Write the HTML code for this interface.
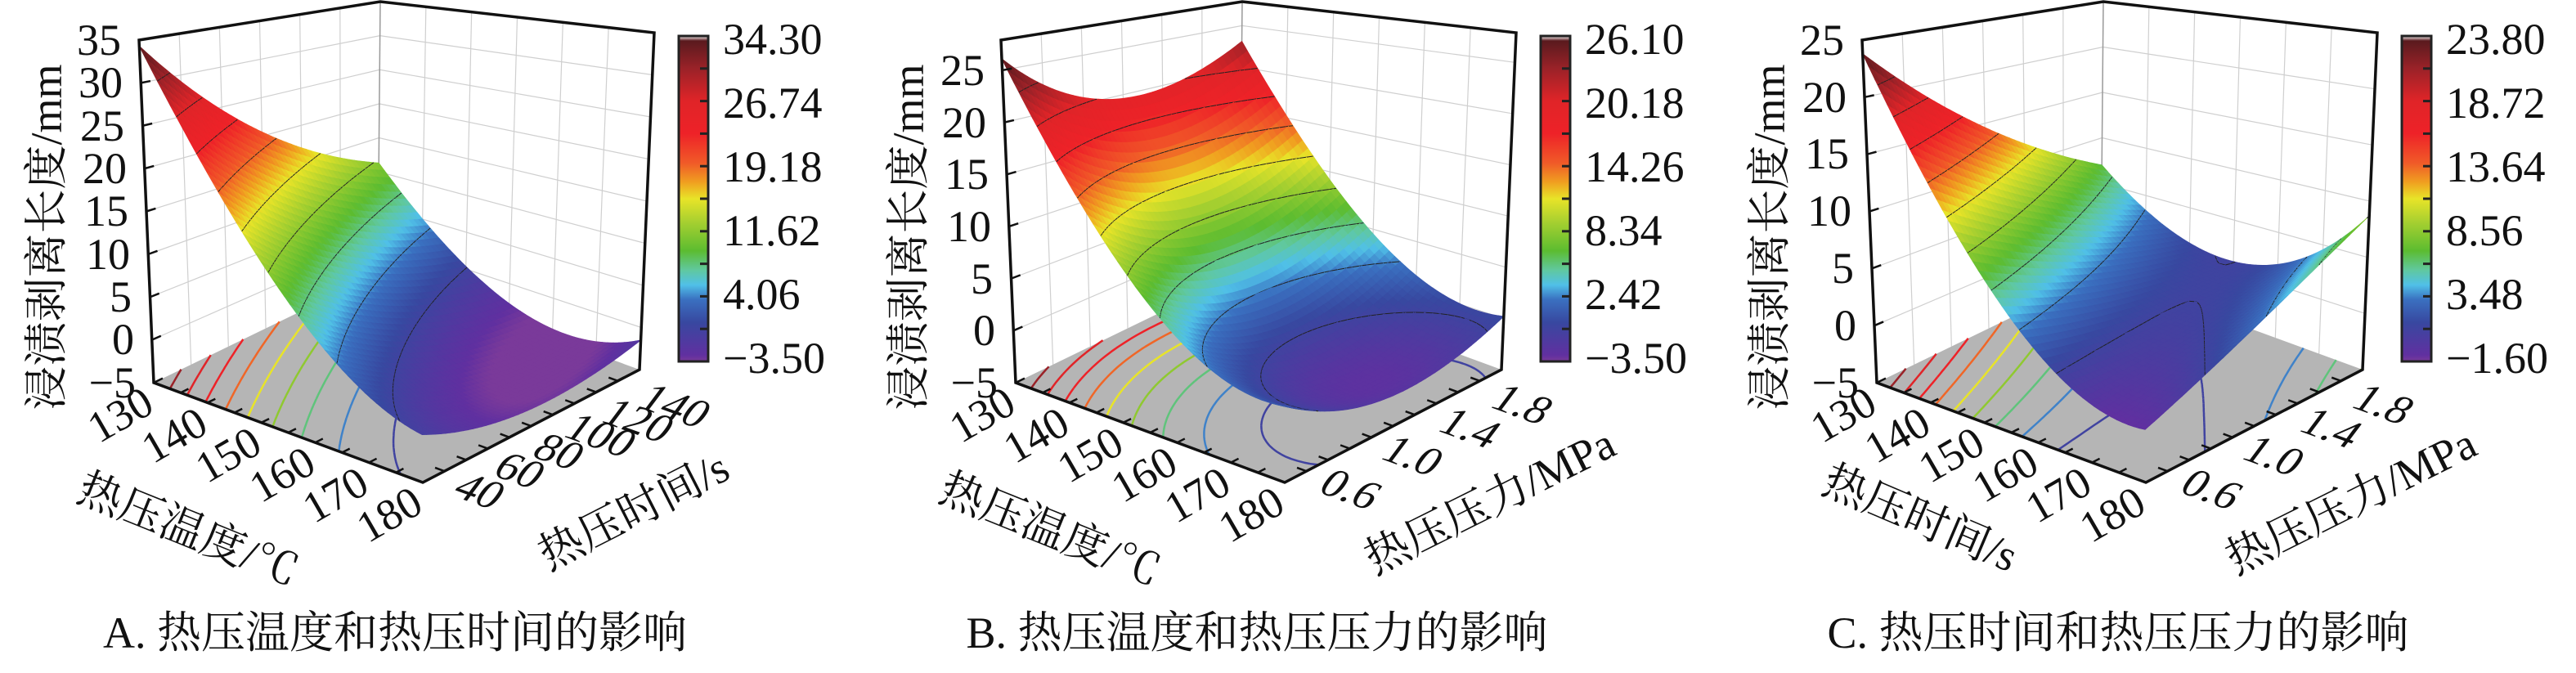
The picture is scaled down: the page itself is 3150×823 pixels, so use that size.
<!DOCTYPE html>
<html><head><meta charset="utf-8">
<style>
html,body{margin:0;padding:0;background:#fff;}
svg{display:block;}
.n{font-family:"Liberation Serif","Noto Serif CJK SC",serif;font-size:54px;fill:#111;}
.c{font-family:"Liberation Serif","Noto Serif CJK SC",serif;font-size:54px;fill:#111;}
</style></head>
<body>
<svg id="root" xmlns="http://www.w3.org/2000/svg" width="3150" height="823" viewBox="0 0 3150 823">
<defs>
<linearGradient id="cm" x1="0" y1="1" x2="0" y2="0">
<stop offset="0" stop-color="#7a3a9a"/><stop offset="0.02" stop-color="#6030a0"/><stop offset="0.12" stop-color="#3848a0"/>
<stop offset="0.19" stop-color="#3a70c0"/><stop offset="0.235" stop-color="#50c0e8"/><stop offset="0.28" stop-color="#60c8a0"/>
<stop offset="0.34" stop-color="#5cbc30"/><stop offset="0.43" stop-color="#a8d030"/><stop offset="0.5" stop-color="#e8e428"/>
<stop offset="0.55" stop-color="#f0a020"/><stop offset="0.61" stop-color="#f05a28"/><stop offset="0.7" stop-color="#ee2228"/>
<stop offset="0.8" stop-color="#e02428"/><stop offset="0.9" stop-color="#9a2228"/><stop offset="0.985" stop-color="#5a1a1e"/><stop offset="1" stop-color="#ffffff"/>
</linearGradient>
</defs>

<!-- Panel A -->
<g transform="translate(0,0)">
<g id="gA"></g>
<rect x="830" y="44" width="36" height="398" fill="url(#cm)" stroke="#222" stroke-width="3"/>
<g stroke="#222" stroke-width="3"><line x1="856" y1="83.8" x2="866" y2="83.8"/><line x1="856" y1="123.6" x2="866" y2="123.6"/><line x1="856" y1="163.4" x2="866" y2="163.4"/><line x1="856" y1="203.2" x2="866" y2="203.2"/><line x1="856" y1="243" x2="866" y2="243"/><line x1="856" y1="282.8" x2="866" y2="282.8"/><line x1="856" y1="322.6" x2="866" y2="322.6"/><line x1="856" y1="362.4" x2="866" y2="362.4"/><line x1="856" y1="402.2" x2="866" y2="402.2"/></g>
<g class="n"><text x="884" y="66">34.30</text><text x="884" y="144">26.74</text><text x="884" y="222">19.18</text><text x="884" y="300">11.62</text><text x="884" y="378">4.06</text><text x="884" y="456">−3.50</text></g>
<g class="n" text-anchor="end"><text x="148" y="67">35</text><text x="150" y="119">30</text><text x="152" y="172">25</text><text x="155" y="224">20</text><text x="157" y="276">15</text><text x="159" y="329">10</text><text x="161" y="381">5</text><text x="164" y="433">0</text><text x="166" y="486">−5</text></g>
<g class="n" text-anchor="middle" dominant-baseline="central">
<text transform="translate(147,507) rotate(-30)">130</text><text transform="translate(213,532) rotate(-30)">140</text><text transform="translate(279,556) rotate(-30)">150</text><text transform="translate(345,580) rotate(-30)">160</text><text transform="translate(410,605) rotate(-30)">170</text><text transform="translate(476,629) rotate(-30)">180</text>
<text transform="matrix(0.94,0.34,-0.6,0.8,587,600)">40</text><text transform="matrix(0.94,0.34,-0.6,0.8,636,575)">60</text><text transform="matrix(0.94,0.34,-0.6,0.8,684,552)">80</text><text transform="matrix(0.94,0.34,-0.6,0.8,735,532)">100</text><text transform="matrix(0.94,0.34,-0.6,0.8,781,514)">120</text><text transform="matrix(0.94,0.34,-0.6,0.8,826,496)">140</text>
</g>
<g class="c" text-anchor="middle" dominant-baseline="central">
<text transform="translate(57,290) rotate(-90)">浸渍剥离长度/mm</text>
<text transform="translate(230,648) rotate(22)">热压温度/℃</text>
<text transform="translate(775,625) rotate(-27)">热压时间/s</text>
</g>
<text class="c" x="483" y="792" text-anchor="middle">A. 热压温度和热压时间的影响</text>
</g>

<!-- Panel B -->
<g transform="translate(1054,0)">
<g id="gB"></g>
<rect x="830" y="44" width="36" height="398" fill="url(#cm)" stroke="#222" stroke-width="3"/>
<g stroke="#222" stroke-width="3"><line x1="856" y1="83.8" x2="866" y2="83.8"/><line x1="856" y1="123.6" x2="866" y2="123.6"/><line x1="856" y1="163.4" x2="866" y2="163.4"/><line x1="856" y1="203.2" x2="866" y2="203.2"/><line x1="856" y1="243" x2="866" y2="243"/><line x1="856" y1="282.8" x2="866" y2="282.8"/><line x1="856" y1="322.6" x2="866" y2="322.6"/><line x1="856" y1="362.4" x2="866" y2="362.4"/><line x1="856" y1="402.2" x2="866" y2="402.2"/></g>
<g class="n"><text x="884" y="66">26.10</text><text x="884" y="144">20.18</text><text x="884" y="222">14.26</text><text x="884" y="300">8.34</text><text x="884" y="378">2.42</text><text x="884" y="456">−3.50</text></g>
<g class="n" text-anchor="end"><text x="150" y="104">25</text><text x="152" y="168">20</text><text x="155" y="231">15</text><text x="158" y="295">10</text><text x="160" y="359">5</text><text x="163" y="422">0</text><text x="166" y="486">−5</text></g>
<g class="n" text-anchor="middle" dominant-baseline="central">
<text transform="translate(147,507) rotate(-30)">130</text><text transform="translate(213,532) rotate(-30)">140</text><text transform="translate(279,556) rotate(-30)">150</text><text transform="translate(345,580) rotate(-30)">160</text><text transform="translate(410,605) rotate(-30)">170</text><text transform="translate(476,629) rotate(-30)">180</text>
<text transform="matrix(0.94,0.34,-0.6,0.8,598,598)">0.6</text><text transform="matrix(0.94,0.34,-0.6,0.8,674,557)">1.0</text><text transform="matrix(0.94,0.34,-0.6,0.8,744,523)">1.4</text><text transform="matrix(0.94,0.34,-0.6,0.8,808,494)">1.8</text>
</g>
<g class="c" text-anchor="middle" dominant-baseline="central">
<text transform="translate(57,290) rotate(-90)">浸渍剥离长度/mm</text>
<text transform="translate(230,648) rotate(22)">热压温度/℃</text>
<text transform="translate(768,613) rotate(-26.5)">热压压力/MPa</text>
</g>
<text class="c" x="483" y="792" text-anchor="middle">B. 热压温度和热压压力的影响</text>
</g>

<!-- Panel C -->
<g transform="translate(2107,0)">
<g id="gC"></g>
<rect x="830" y="44" width="36" height="398" fill="url(#cm)" stroke="#222" stroke-width="3"/>
<g stroke="#222" stroke-width="3"><line x1="856" y1="83.8" x2="866" y2="83.8"/><line x1="856" y1="123.6" x2="866" y2="123.6"/><line x1="856" y1="163.4" x2="866" y2="163.4"/><line x1="856" y1="203.2" x2="866" y2="203.2"/><line x1="856" y1="243" x2="866" y2="243"/><line x1="856" y1="282.8" x2="866" y2="282.8"/><line x1="856" y1="322.6" x2="866" y2="322.6"/><line x1="856" y1="362.4" x2="866" y2="362.4"/><line x1="856" y1="402.2" x2="866" y2="402.2"/></g>
<g class="n"><text x="884" y="66">23.80</text><text x="884" y="144">18.72</text><text x="884" y="222">13.64</text><text x="884" y="300">8.56</text><text x="884" y="378">3.48</text><text x="884" y="456">−1.60</text></g>
<g class="n" text-anchor="end"><text x="148" y="67">25</text><text x="151" y="137">20</text><text x="154" y="206">15</text><text x="157" y="276">10</text><text x="160" y="346">5</text><text x="163" y="416">0</text><text x="166" y="486">−5</text></g>
<g class="n" text-anchor="middle" dominant-baseline="central">
<text transform="translate(147,507) rotate(-30)">130</text><text transform="translate(213,532) rotate(-30)">140</text><text transform="translate(279,556) rotate(-30)">150</text><text transform="translate(345,580) rotate(-30)">160</text><text transform="translate(410,605) rotate(-30)">170</text><text transform="translate(476,629) rotate(-30)">180</text>
<text transform="matrix(0.94,0.34,-0.6,0.8,598,598)">0.6</text><text transform="matrix(0.94,0.34,-0.6,0.8,674,557)">1.0</text><text transform="matrix(0.94,0.34,-0.6,0.8,744,523)">1.4</text><text transform="matrix(0.94,0.34,-0.6,0.8,808,494)">1.8</text>
</g>
<g class="c" text-anchor="middle" dominant-baseline="central">
<text transform="translate(57,290) rotate(-90)">浸渍剥离长度/mm</text>
<text transform="translate(241,634) rotate(23)">热压时间/s</text>
<text transform="translate(768,613) rotate(-26.5)">热压压力/MPa</text>
</g>
<text class="c" x="483" y="792" text-anchor="middle">C. 热压时间和热压压力的影响</text>
</g>
</svg>
<script>
(function(){
var NS='http://www.w3.org/2000/svg';
var stops=[[0,'#7a3a9a'],[0.02,'#6030a0'],[0.12,'#3848a0'],[0.19,'#3a70c0'],[0.235,'#50c0e8'],[0.28,'#60c8a0'],[0.34,'#5cbc30'],[0.43,'#a8d030'],[0.5,'#e8e428'],[0.55,'#f0a020'],[0.61,'#f05a28'],[0.7,'#ee2228'],[0.8,'#e02428'],[0.9,'#9a2228'],[1,'#5a1a1e']];
function hx(h){return [parseInt(h.substr(1,2),16),parseInt(h.substr(3,2),16),parseInt(h.substr(5,2),16)];}
var S=stops.map(function(s){return [s[0],hx(s[1])];});
function cmap(t){if(t<0)t=0;if(t>1)t=1;for(var i=1;i<S.length;i++){if(t<=S[i][0]){var a=S[i-1],b=S[i],f=(t-a[0])/(b[0]-a[0]||1);return 'rgb('+Math.round(a[1][0]+(b[1][0]-a[1][0])*f)+','+Math.round(a[1][1]+(b[1][1]-a[1][1])*f)+','+Math.round(a[1][2]+(b[1][2]-a[1][2])*f)+')';}}return 'rgb(90,26,30)';}
var FL=[[188,468],[517,590],[782,452],[462,335]];
var TP=[[170,49],[510,92],[800,40],[465,2]];
function bil(Q,u,v){var w=[(1-u)*(1-v),u*(1-v),u*v,(1-u)*v];return [Q[0][0]*w[0]+Q[1][0]*w[1]+Q[2][0]*w[2]+Q[3][0]*w[3],Q[0][1]*w[0]+Q[1][1]*w[1]+Q[2][1]*w[2]+Q[3][1]*w[3]];}
function el(g,tag,a){var e=document.createElementNS(NS,tag);for(var k in a)e.setAttribute(k,a[k]);g.appendChild(e);return e;}
function pts(a){return a.map(function(p){return p[0].toFixed(1)+','+p[1].toFixed(1);}).join(' ');}
function segs(c,vals,l){var p=[];for(var k=0;k<4;k++){var a=vals[k],b=vals[(k+1)%4];if((a<l)!=(b<l)){var s=(l-a)/(b-a);p.push([c[k][0]+(c[(k+1)%4][0]-c[k][0])*s,c[k][1]+(c[(k+1)%4][1]-c[k][1])*s]);}}var r=[];for(var k2=0;k2+1<p.length;k2+=2)r.push([p[k2],p[k2+1]]);return r;}
function build(id,f,zhi,cmin,cmax){
 var g=document.getElementById(id);
 function P(u,v,z){var t=(z+5)/(zhi+5);var a=bil(FL,u,v),b=bil(TP,u,v);return [a[0]+(b[0]-a[0])*t,a[1]+(b[1]-a[1])*t];}
 el(g,'polygon',{points:pts([P(0,0,-5),P(0,1,-5),P(0,1,zhi),P(0,0,zhi)]),fill:'#fff'});
 el(g,'polygon',{points:pts([P(0,1,-5),P(1,1,-5),P(1,1,zhi),P(0,1,zhi)]),fill:'#fff'});
 var d='',k,z,a,b;
 for(z=0;z<=zhi+0.01;z+=5){a=P(0,0,z);b=P(0,1,z);var c=P(1,1,z);d+='M'+a[0]+' '+a[1]+'L'+b[0]+' '+b[1]+'L'+c[0]+' '+c[1];}
 for(k=1;k<6;k++){var s=k/6;var a1=P(0,s,-5),b1=P(0,s,zhi),a2=P(s,1,-5),b2=P(s,1,zhi);d+='M'+a1[0]+' '+a1[1]+'L'+b1[0]+' '+b1[1]+'M'+a2[0]+' '+a2[1]+'L'+b2[0]+' '+b2[1];}
 el(g,'path',{d:d,stroke:'#cfcfcf','stroke-width':1.2,fill:'none'});
 var tb=P(0,1,-5),tt=P(0,1,zhi);
 el(g,'line',{x1:tb[0],y1:tb[1],x2:tt[0],y2:tt[1],stroke:'#999','stroke-width':1.5});
 el(g,'polygon',{points:pts([P(0,0,-5),P(1,0,-5),P(1,1,-5),P(0,1,-5)]),fill:'#b5b5b5'});
 var N=48,V=[],i,j;
 for(i=0;i<=N;i++){V[i]=[];for(j=0;j<=N;j++)V[i][j]=f(i/N,j/N);}
 var levs=[];for(k=1;k<10;k++)levs.push(cmin+k*(cmax-cmin)/10);
 levs.forEach(function(l){var dd='';for(var i=0;i<N;i++)for(var j=0;j<N;j++){var c=[[i/N,j/N],[(i+1)/N,j/N],[(i+1)/N,(j+1)/N],[i/N,(j+1)/N]];var vs=[V[i][j],V[i+1][j],V[i+1][j+1],V[i][j+1]];segs(c,vs,l).forEach(function(sg){var p=P(sg[0][0],sg[0][1],-5),q=P(sg[1][0],sg[1][1],-5);dd+='M'+p[0].toFixed(1)+' '+p[1].toFixed(1)+'L'+q[0].toFixed(1)+' '+q[1].toFixed(1);});}
  if(dd)el(g,'path',{d:dd,stroke:cmap((l-cmin)/(cmax-cmin)),'stroke-width':2.5,fill:'none'});});
 var cells=[];for(i=0;i<N;i++)for(j=0;j<N;j++)cells.push([i,j,(i-j)]);
 cells.sort(function(a,b){return a[2]-b[2];});
 cells.forEach(function(cl){var i=cl[0],j=cl[1];var c=[[i/N,j/N],[(i+1)/N,j/N],[(i+1)/N,(j+1)/N],[i/N,(j+1)/N]];var vs=[V[i][j],V[i+1][j],V[i+1][j+1],V[i][j+1]];
  var av=(vs[0]+vs[1]+vs[2]+vs[3])/4;var col=cmap((av-cmin)/(cmax-cmin));
  el(g,'polygon',{points:pts(c.map(function(q,k){return P(q[0],q[1],vs[k]);})),fill:col,stroke:col,'stroke-width':0.9});
  var dd='';levs.forEach(function(l){segs(c,vs,l).forEach(function(sg){var p=P(sg[0][0],sg[0][1],l),q=P(sg[1][0],sg[1][1],l);dd+='M'+p[0].toFixed(1)+' '+p[1].toFixed(1)+'L'+q[0].toFixed(1)+' '+q[1].toFixed(1);});});
  if(dd)el(g,'path',{d:dd,stroke:'#222','stroke-width':1,fill:'none'});});
 var L=P(0,0,-5),F=P(1,0,-5),R=P(1,1,-5),TL=P(0,0,zhi),TB=P(0,1,zhi),TR=P(1,1,zhi);
 el(g,'path',{d:'M'+L+'L'+TL+'L'+TB+'L'+TR+'L'+R+'L'+F+'Z',stroke:'#111','stroke-width':3.5,fill:'none','stroke-linejoin':'miter'});
 d='';
 for(z=-5;z<=zhi+0.01;z+=5){a=P(0,0,z);b=P(0,0.04,z);d+='M'+a[0]+' '+a[1]+'L'+b[0]+' '+b[1];}
 for(k=1;k<10;k++){var u=k/10;a=P(u,0,-5);b=P(u,0.035,-5);d+='M'+a[0]+' '+a[1]+'L'+b[0]+' '+b[1];a=P(1,u,-5);b=P(0.965,u,-5);d+='M'+a[0]+' '+a[1]+'L'+b[0]+' '+b[1];}
 el(g,'path',{d:d,stroke:'#111','stroke-width':2.5,fill:'none'});
}
build('gA',function(u,v){return 34.3-64.6*u+30*u*u-32*v+9*v*v+21.8*u*v;},35,-3.5,34.3);
build('gB',function(u,v){return 21.1+(20-8*u)*(v-0.5)*(v-0.5)-3*v+2*u*v-51.5*u+28.6*u*u;},27.9,-3.5,26.1);
build('gC',function(u,v){return 23.8-52.6*u+27.7*u*u-20*v+3.2*v*v+26.6*u*v;},25,-1.6,23.8);
})();
</script>
</body></html>
